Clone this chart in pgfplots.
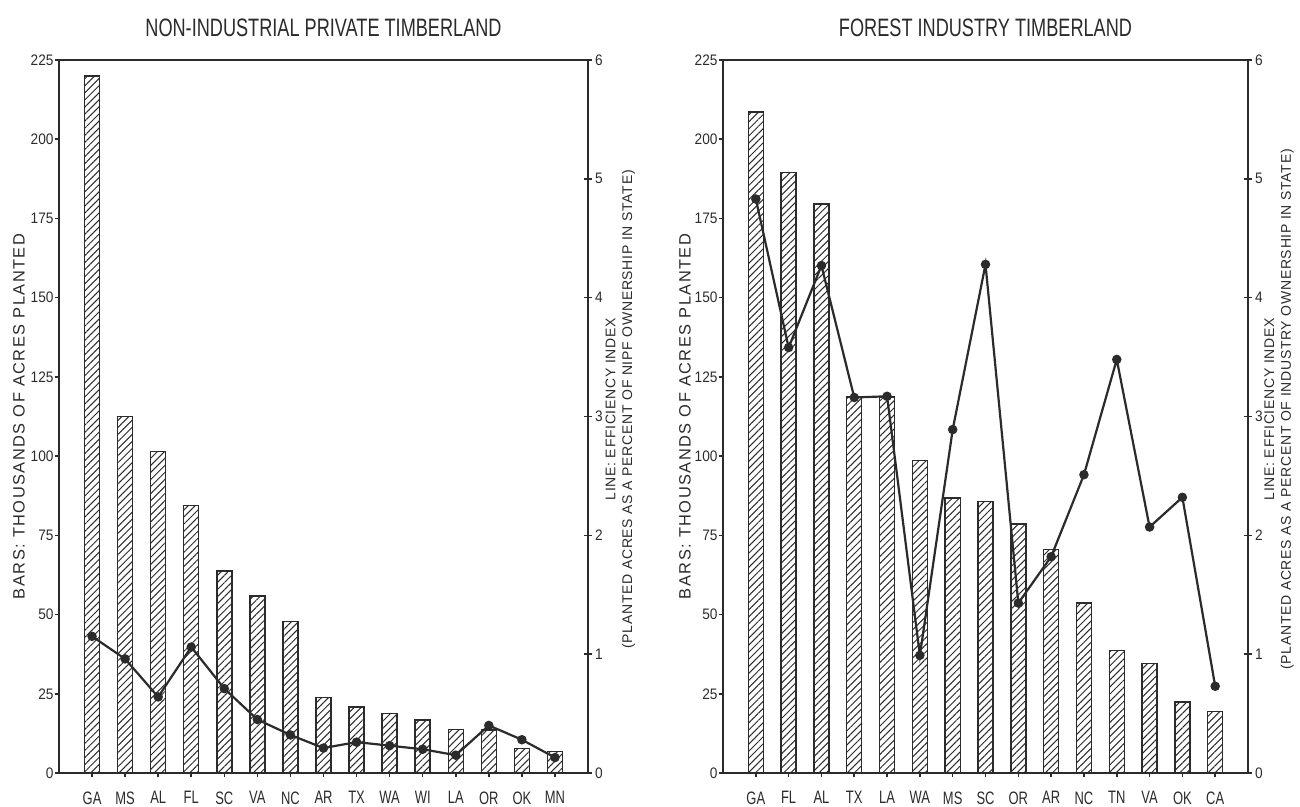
\documentclass[border=0pt]{standalone}
\usepackage{fontspec}
\setmainfont{Liberation Sans}
\newfontfamily\condfont{Liberation Sans}[FakeStretch=0.72]
\newfontfamily\numfont{Liberation Sans}[FakeStretch=0.9]
\newfontfamily\labfont{Liberation Sans}[LetterSpace=9]
\newfontfamily\smlfont{Liberation Sans}[LetterSpace=5]
\usepackage{pgfplots}
\usepackage{pgfplotstable}
\pgfplotsset{compat=1.18}
\usetikzlibrary{patterns.meta}
\definecolor{ink}{HTML}{2B2B2B}

\pgfplotstableread{
x bars idx
0  220.0 1.15
1  112.5 0.96
2  101.5 0.64
3   84.5 1.06
4   63.8 0.71
5   55.9 0.45
6   47.8 0.32
7   23.8 0.21
8   20.8 0.26
9   18.7 0.23
10  16.7 0.20
11  13.8 0.15
12  13.6 0.40
13   7.8 0.28
14   6.8 0.13
}\nipf

\pgfplotstableread{
x bars idx
0  208.6 4.83
1  189.5 3.58
2  179.6 4.27
3  118.7 3.16
4  118.7 3.17
5   98.7 0.99
6   86.8 2.89
7   85.6 4.28
8   78.6 1.43
9   70.6 1.82
10  53.7 2.51
11  38.7 3.48
12  34.5 2.07
13  22.4 2.32
14  19.5 0.73
}\indus

\pgfplotsset{
  common/.style={
    scale only axis, height=356.5pt,
    xmin=-1, xmax=15,
    axis line style={ink, line width=0.9pt},
    every tick/.style={ink, line width=0.8pt},
    /pgf/number format/assume math mode=true,
    tick label style={font=\numfont\fontsize{7.6}{8}\selectfont, text=ink},
  },
  barax/.style={
    common, ymin=0, ymax=225,
    ytick={0,25,...,225}, ytick pos=left,
    xtick={0,...,14}, xtick pos=bottom,
    tick align=outside, major tick length=2.2pt,
    yticklabel style={xshift=3pt},
    xticklabel style={font=\condfont\fontsize{9}{9}\selectfont, text=ink, yshift=-3.5pt},
    title style={at={(0.5,1)}, anchor=base, yshift=5.5pt, font=\condfont\fontsize{12.6}{13}\selectfont, text=ink},
    ylabel style={anchor=center, font=\labfont\fontsize{8.2}{9}\selectfont, text=ink},
  },
  lineax/.style={
    common, ymin=0, ymax=6, ytick={0,...,6},
    axis y line*=right, axis x line=none,
    tick align=center, major tick length=4pt,
    yticklabel style={xshift=-2pt},
    ylabel style={anchor=center, align=center, font=\smlfont\fontsize{7}{8.4}\selectfont, text=ink},
  },
  barplot/.style={ybar, bar width=7.5pt, bar shift=0pt, draw=ink, line width=0.7pt,
    pattern={Lines[angle=45,distance=2.5pt,line width=0.5pt]}, pattern color=ink},
  lineplot/.style={ink, line width=1.1pt, mark=*, mark size=1.8pt, mark options={fill=ink, draw=ink}},
}

\begin{document}
\begin{tikzpicture}
% ---- left chart
\begin{axis}[barax, width=264.5pt,
  xticklabels={GA,MS,AL,FL,SC,VA,NC,AR,TX,WA,WI,LA,OR,OK,MN},
  title={NON-INDUSTRIAL PRIVATE TIMBERLAND},
  ylabel={BARS: THOUSANDS OF ACRES PLANTED},
  ylabel style={at={(axis description cs:-0.0756,0.5)}}]
\addplot[barplot] table[x=x,y=bars]{\nipf};
\end{axis}
\begin{axis}[lineax, width=264.5pt,
  ylabel={LINE: EFFICIENCY INDEX\\(PLANTED ACRES AS A PERCENT OF NIPF OWNERSHIP IN STATE)},
  ylabel style={at={(axis description cs:1.061,0.51)}}]
\addplot[lineplot] table[x=x,y=idx]{\nipf};
\end{axis}
% ---- right chart
\begin{axis}[barax, width=262.5pt, at={(332pt,0pt)},
  xticklabels={GA,FL,AL,TX,LA,WA,MS,SC,OR,AR,NC,TN,VA,OK,CA},
  title={FOREST INDUSTRY TIMBERLAND},
  ylabel={BARS: THOUSANDS OF ACRES PLANTED},
  ylabel style={at={(axis description cs:-0.0724,0.5)}}]
\addplot[barplot] table[x=x,y=bars]{\indus};
\end{axis}
\begin{axis}[lineax, width=262.5pt, at={(332pt,0pt)},
  ylabel={LINE: EFFICIENCY INDEX\\(PLANTED ACRES AS A PERCENT OF INDUSTRY OWNERSHIP IN STATE)},
  ylabel style={at={(axis description cs:1.059,0.51)}}]
\addplot[lineplot] table[x=x,y=idx]{\indus};
\end{axis}
\pgfresetboundingbox
\path[use as bounding box] (-29.5pt,-17pt) rectangle (620.5pt,386.5pt);
\end{tikzpicture}
\end{document}
